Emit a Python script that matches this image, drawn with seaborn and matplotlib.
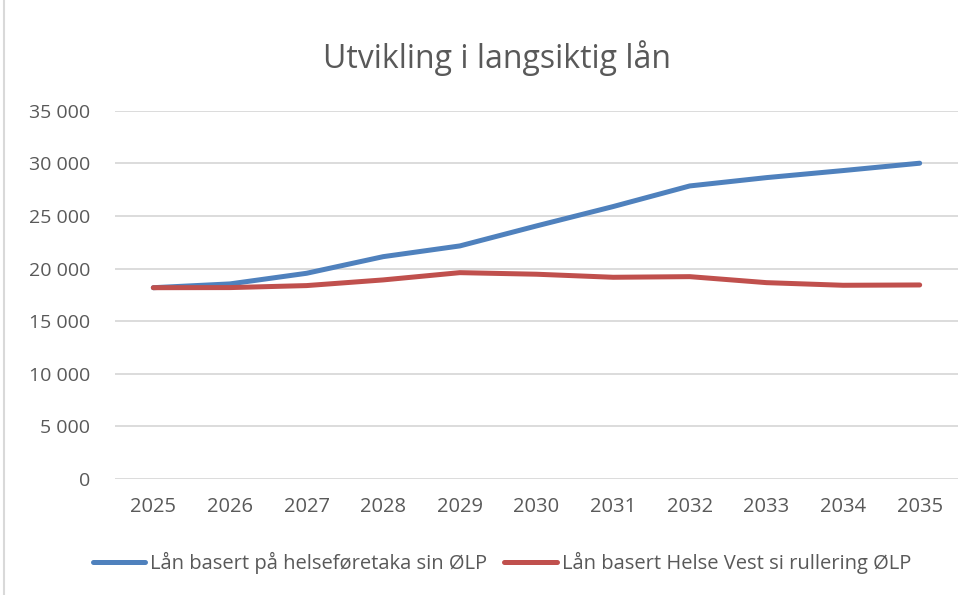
import pandas as pd
import matplotlib.pyplot as plt
import seaborn as sns
from matplotlib.ticker import FuncFormatter
from matplotlib.lines import Line2D

# === Data === #
years = ["2025", "2026", "2027", "2028", "2029", "2030", "2031", "2032", "2033", "2034", "2035"]
laan_hf = [18180, 18540, 19550, 21130, 22150, 24050, 25890, 27850, 28640, 29310, 30010]
laan_hv = [18180, 18190, 18380, 18920, 19610, 19460, 19170, 19230, 18660, 18410, 18440]
series_names = ["Lån basert på helseføretaka sin ØLP", "Lån basert Helse Vest si rullering ØLP"]
colors = ["#4F81BD", "#C0504D"]

df = pd.DataFrame({"År": years * 2,
                   "Lån": laan_hf + laan_hv,
                   "Serie": [series_names[0]] * len(years) + [series_names[1]] * len(years)})

# === Plot === #
sns.set_style("white")
plt.rcParams['font.family'] = ['Open Sans', 'DejaVu Sans']
grey = "#595959"

fig = plt.figure(figsize=(9.76, 5.95), dpi=100)
ax = fig.add_axes([115 / 976, 1 - 479 / 595, (958 - 115) / 976, (479 - 110.7) / 595])

sns.lineplot(data=df, x="År", y="Lån", hue="Serie", palette=colors,
             linewidth=3.6, sort=False, legend=False, ax=ax,
             solid_capstyle="round", solid_joinstyle="round")

ax.set_xlim(-0.5, len(years) - 0.5)
ax.set_ylim(0, 35000)
ax.set_yticks(range(0, 35001, 5000))
ax.yaxis.set_major_formatter(FuncFormatter(lambda v, p: f"{int(v):,}".replace(",", " ")))
ax.grid(axis="y", color="#d9d9d9", linewidth=1.3)
ax.set_axisbelow(True)
for s in ax.spines.values():
    s.set_visible(False)
ax.tick_params(axis="both", length=0, labelcolor=grey)
ax.tick_params(axis="y", pad=18, labelsize=14)
ax.tick_params(axis="x", pad=13, labelsize=14.5)
ax.set_xlabel("")
ax.set_ylabel("")

fig.text(497 / 976, 1 - 58 / 595, "Utvikling i langsiktig lån", ha="center", va="center",
         fontsize=23, color=grey)

handles = [Line2D([0], [0], color=c, linewidth=3.6, solid_capstyle="round") for c in colors]
fig.legend(handles, series_names, loc="center", bbox_to_anchor=(502 / 976, 1 - 563 / 595),
           ncol=2, frameon=False, fontsize=14.5, labelcolor=grey, handlelength=2.6,
           handletextpad=0.25, columnspacing=0.85)

# light chart border on the left
fig.add_artist(Line2D([4 / 976, 4 / 976], [0, 1], color="#d9d9d9", linewidth=1.5,
                      transform=fig.transFigure))

plt.savefig("out.png", dpi=100)
plt.close()
